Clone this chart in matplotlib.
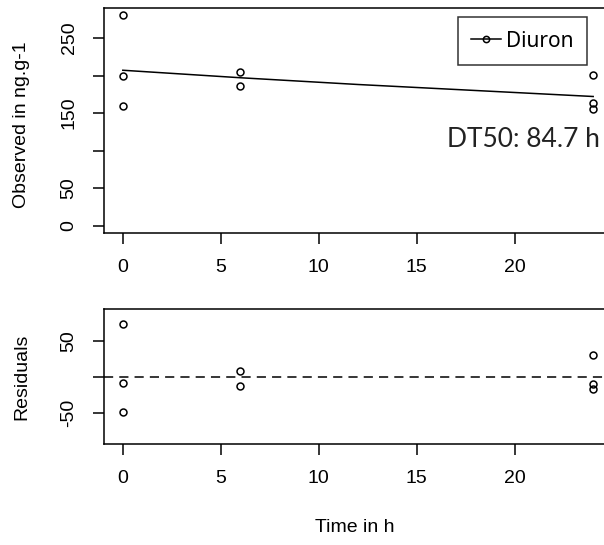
import matplotlib
matplotlib.use("Agg")
from matplotlib import pyplot as plt
from matplotlib.lines import Line2D

# values
time = [0, 0, 0, 6, 6, 24, 24, 24]
observed = [281, 199, 160, 205, 186, 201, 163, 156]
residuals = [74, -8, -48, 8, -12, 31, -9, -16]
fit_time = [0, 6, 12, 18, 24]
fit_values = [207, 197, 188, 180, 172]
compound = "Diuron"
dt50_label = "DT50: 84.7 h"

W, H = 604, 545
fig = plt.figure(figsize=(W / 100, H / 100), dpi=100)
plt.rcParams['font.family'] = ['Liberation Sans', 'DejaVu Sans']

def px_axes(left, top, right, bottom):
    # axes placed by pixel box; right edge runs past the figure like the reference
    return fig.add_axes([left / W, 1 - bottom / H, (right - left) / W, (bottom - top) / H])

def style(ax):
    for s in ax.spines.values():
        s.set_linewidth(1.1)
    ax.tick_params(length=8, width=1.1, labelsize=14, pad=11)
    ax.tick_params(axis='y', labelrotation=90)
    for lab in ax.get_yticklabels():
        lab.set_va('center')

# top panel: observed + fit
ax1 = px_axes(104, 8, 612, 233)
ax1.plot(fit_time, fit_values, color='black', lw=1.1)
ax1.plot(time, observed, 'o', mfc='none', mec='black', ms=5, mew=1.1)
ax1.set_xlim(-0.96, 24.96)
ax1.set_ylim(-10, 290)
ax1.set_xticks([0, 5, 10, 15, 20])
ax1.set_yticks([0, 50, 100, 150, 200, 250])
ax1.set_yticklabels(['0', '50', '', '150', '', '250'])
style(ax1)

# legend handle: line with a small circle in the middle
h = Line2D([0], [0], color='black', lw=1.1, marker='o', mfc='none', ms=4.5, mew=1.1)
leg = fig.legend([h], [compound], loc='upper right',
                 bbox_to_anchor=(587 / W, 1 - 17 / H), borderaxespad=0,
                 frameon=True, fancybox=False, handlelength=1.4,
                 prop={'family': 'Noto Sans', 'size': 15}, borderpad=0.65,
                 handletextpad=0.25)
leg.get_frame().set_edgecolor('black')
leg.get_frame().set_linewidth(1.1)

fig.text(447 / W, 1 - 147 / H, dt50_label, family='Lato', fontsize=19,
         color='#222222', ha='left', va='baseline')

# bottom panel: residuals
ax2 = px_axes(104, 309, 612, 444)
ax2.plot(time, residuals, 'o', mfc='none', mec='black', ms=5, mew=1.1)
ax2.axhline(0, color='black', lw=1.1, ls=(0, (6, 4)))
ax2.set_xlim(-0.96, 24.96)
ax2.set_ylim(-93, 95)
ax2.set_xticks([0, 5, 10, 15, 20])
ax2.set_yticks([-50, 0, 50])
ax2.set_yticklabels(['-50', '', '50'])
style(ax2)

fig.text(22 / W, 1 - 125 / H, "Observed in ng.g-1", rotation=90,
         ha='center', va='center', fontsize=14)
fig.text(22 / W, 1 - 377 / H, "Residuals", rotation=90,
         ha='center', va='center', fontsize=14)
fig.text(355 / W, 1 - 528 / H, "Time in h", ha='center', va='center', fontsize=14)

plt.savefig("out.png", dpi=100)
